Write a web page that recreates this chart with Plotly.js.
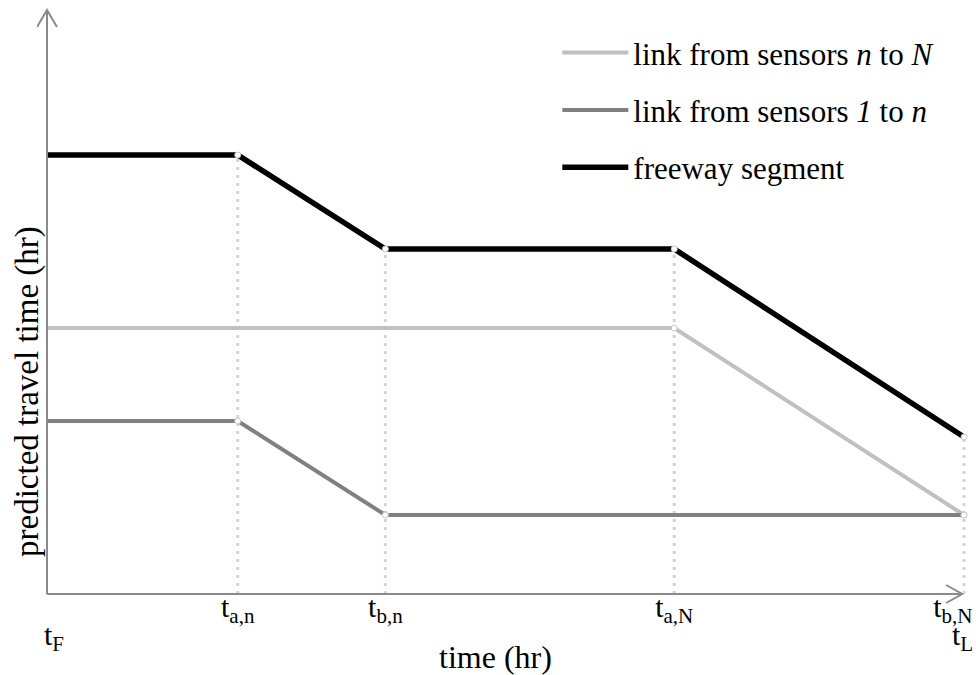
<!DOCTYPE html>
<html>
<head>
<meta charset="utf-8">
<script src="https://cdn.plot.ly/plotly-3.0.1.min.js"></script>
<style>html,body{margin:0;padding:0;background:#fff;}#chart{width:976px;height:675px;}</style>
</head>
<body>
<div id="chart"></div>
<script>
// time points: t_F, t_a,n, t_b,n, t_a,N, t_b,N (= t_L)
const timePoints = [0, 2.08, 3.69, 6.84, 10];
const tickLabels = ['', 't<sub>a,n</sub>', 't<sub>b,n</sub>', 't<sub>a,N</sub>', 't<sub>b,N</sub>\u00a0\u00a0\u00a0'];
const endLabels = ['t<sub>F</sub>', 't<sub>L</sub>'];   // first / last instants, on a second row

// freeway segment
const freewayX = [0, 2.08, 3.69, 6.84, 10];
const freewayY = [4.39, 4.39, 3.45, 3.45, 1.57];
// link from sensors n to N
const linkNX = [0, 6.84, 10];
const linkNY = [2.66, 2.66, 0.79];
// link from sensors 1 to n
const link1X = [0, 2.08, 3.69, 10];
const link1Y = [1.73, 1.73, 0.79, 0.79];

const seriesNames = ['link from sensors <i>n</i> to <i>N</i>', 'link from sensors <i>1</i> to <i>n</i>', 'freeway segment'];

const FONT = 'Liberation Serif, Times New Roman, serif';
const traces = [];

// dotted guides from the freeway breakpoints down to the time axis
for (let i = 1; i < freewayX.length; i++) {
  traces.push({
    x: [freewayX[i], freewayX[i]], y: [0, freewayY[i]],
    mode: 'lines', line: {color: '#d4d4d4', width: 3, dash: '3px,5px'},
    showlegend: false, hoverinfo: 'skip'
  });
}
const series = [
  {x: linkNX, y: linkNY, color: '#c0c0c0', width: 4},
  {x: link1X, y: link1Y, color: '#808080', width: 4},
  {x: freewayX, y: freewayY, color: '#000000', width: 5.5}
];
series.forEach((s, k) => {
  traces.push({
    x: s.x, y: s.y, name: seriesNames[k], legendgroup: 'g' + k, mode: 'lines',
    line: {color: s.color, width: s.width}
  });
});
// breakpoint dots (skip the first point of each series)
series.forEach((s, k) => {
  traces.push({
    x: s.x.slice(1), y: s.y.slice(1), mode: 'markers', showlegend: false, hoverinfo: 'skip',
    marker: {size: 6, color: '#ffffff', line: {color: '#c8c8c8', width: 1}}
  });
});

const AX = '#8a8a8a';
const layout = {
  width: 976, height: 675,
  margin: {l: 37, r: 2, t: 5, b: 71},
  paper_bgcolor: '#fff', plot_bgcolor: '#fff',
  font: {family: FONT, size: 30, color: '#000'},
  xaxis: {
    range: [-0.109, 10.109], showgrid: false, zeroline: false, showline: false,
    tickmode: 'array', tickvals: timePoints, ticktext: tickLabels, ticks: '',
    tickfont: {family: FONT, size: 30, color: '#000'}, ticklabeloverflow: 'allow',
    anchor: 'free', position: 0.030
  },
  yaxis: {
    range: [-0.10, 5.89], showgrid: false, zeroline: false, showline: false, showticklabels: false, ticks: ''
  },
  showlegend: true,
  legend: {
    x: 0.5553, y: 0.965, xanchor: 'left', yanchor: 'top',
    font: {family: FONT, size: 31, color: '#000'},
    tracegroupgap: 14, itemwidth: 66, bgcolor: 'rgba(0,0,0,0)'
  },
  shapes: [
    {type: 'line', xref: 'x', yref: 'y', x0: 0, y0: 0, x1: 0, y1: 5.84, line: {color: AX, width: 2}},
    {type: 'line', xref: 'x', yref: 'y', x0: 0, y0: 0, x1: 9.98, y1: 0, line: {color: AX, width: 2}},
    {type: 'path', xref: 'x', yref: 'y', xsizemode: 'pixel', ysizemode: 'pixel', xanchor: 0, yanchor: 5.84,
     path: 'M-10,-17 L0,0 L10,-17', line: {color: AX, width: 2}},
    {type: 'path', xref: 'x', yref: 'y', xsizemode: 'pixel', ysizemode: 'pixel', xanchor: 9.98, yanchor: 0,
     path: 'M-16,-9 L0,0 L-16,9', line: {color: AX, width: 2}}
  ],
  annotations: [
    {text: 'predicted travel time (hr)', xref: 'paper', yref: 'paper', x: 0, xshift: -9, y: 0.354,
     xanchor: 'center', yanchor: 'middle', textangle: -90, showarrow: false, font: {family: FONT, size: 33}},
    {text: 'time (hr)', xref: 'paper', yref: 'paper', x: 0.489, y: -0.088,
     xanchor: 'center', yanchor: 'middle', showarrow: false, font: {family: FONT, size: 32}},
    {text: endLabels[0], xref: 'x', yref: 'paper', x: timePoints[0], xshift: 7, y: -0.0555,
     xanchor: 'center', yanchor: 'middle', showarrow: false, font: {family: FONT, size: 30}},
    {text: endLabels[1], xref: 'x', yref: 'paper', x: timePoints[4], xshift: -2, y: -0.0555,
     xanchor: 'center', yanchor: 'middle', showarrow: false, font: {family: FONT, size: 30}}
  ]
};
Plotly.newPlot('chart', traces, layout, {displayModeBar: false, staticPlot: true});
</script>
</body>
</html>
